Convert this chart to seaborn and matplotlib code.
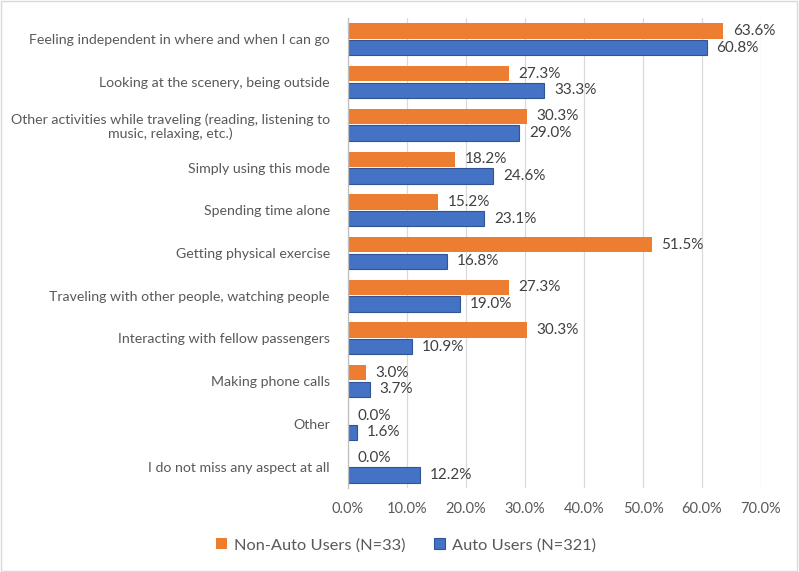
import matplotlib
matplotlib.use("Agg")
import matplotlib.pyplot as plt
import seaborn as sns
import pandas as pd
from matplotlib.patches import Rectangle

categories = [
    "Feeling independent in where and when I can go",
    "Looking at the scenery, being outside",
    "Other activities while traveling (reading, listening to\nmusic, relaxing, etc.)",
    "Simply using this mode",
    "Spending time alone",
    "Getting physical exercise",
    "Traveling with other people, watching people",
    "Interacting with fellow passengers",
    "Making phone calls",
    "Other",
    "I do not miss any aspect at all",
]
non_auto = [63.6, 27.3, 30.3, 18.2, 15.2, 51.5, 27.3, 30.3, 3.0, 0.0, 0.0]
auto = [60.8, 33.3, 29.0, 24.6, 23.1, 16.8, 19.0, 10.9, 3.7, 1.6, 12.2]
series_names = ["Non-Auto Users (N=33)", "Auto Users (N=321)"]
x_ticks = [0, 10, 20, 30, 40, 50, 60, 70]

df = pd.DataFrame({
    "category": categories * 2,
    "value": non_auto + auto,
    "series": [series_names[0]] * len(categories) + [series_names[1]] * len(categories),
})

sns.set_theme(style="white")
plt.rcParams["font.family"] = ["Lato", "DejaVu Sans"]

fig = plt.figure(figsize=(7.99, 5.72), dpi=100)
ax = fig.add_axes([0.4355, 0.147, 0.5170, 0.8215])

palette = {series_names[0]: "#ED7D31", series_names[1]: "#4472C4"}
sns.barplot(data=df, y="category", x="value", hue="series", order=categories,
            hue_order=series_names, palette=palette, orient="h", ax=ax,
            width=0.78, gap=0.08, saturation=1, legend=True)

for patch in ax.patches:
    fc = patch.get_facecolor()
    if abs(fc[0] - 0x44 / 255) < 0.02:
        patch.set_edgecolor("#2F5597")
        patch.set_linewidth(0.8)
    else:
        patch.set_linewidth(0)

for cont in ax.containers:
    ax.bar_label(cont, labels=[f"{v:.1f}%" for v in cont.datavalues],
                 padding=7, fontsize=11, color="#404040")

ax.set_xlim(0, 70)
ax.set_xticks(x_ticks)
ax.set_xticklabels([f"{t:.1f}%" for t in x_ticks], fontsize=10.5, color="#595959")
ax.tick_params(axis="y", labelsize=10.2, labelcolor="#595959", length=0, pad=13)
ax.tick_params(axis="x", length=0, pad=10)
for lbl in ax.get_yticklabels():
    lbl.set_multialignment("center")
ax.set_xlabel("")
ax.set_ylabel("")
ax.grid(axis="x", color="#D9D9D9", linewidth=0.9)
ax.set_axisbelow(True)
for s in ["top", "right", "bottom"]:
    ax.spines[s].set_visible(False)
ax.spines["left"].set_color("#BFBFBF")
ax.spines["left"].set_linewidth(0.9)

handles, labels = ax.get_legend_handles_labels()
ax.legend_.remove()
fig.legend(handles, labels, loc="center", bbox_to_anchor=(0.508, 0.047), ncol=2,
           frameon=False, fontsize=11.8, labelcolor="#595959", handlelength=0.7,
           handleheight=0.7, handletextpad=0.4, columnspacing=1.75)

fig.add_artist(Rectangle((0.001, 0.001), 0.997, 0.997, transform=fig.transFigure,
                         fill=False, edgecolor="#D9D9D9", linewidth=1))

fig.savefig("out.png", dpi=100)
